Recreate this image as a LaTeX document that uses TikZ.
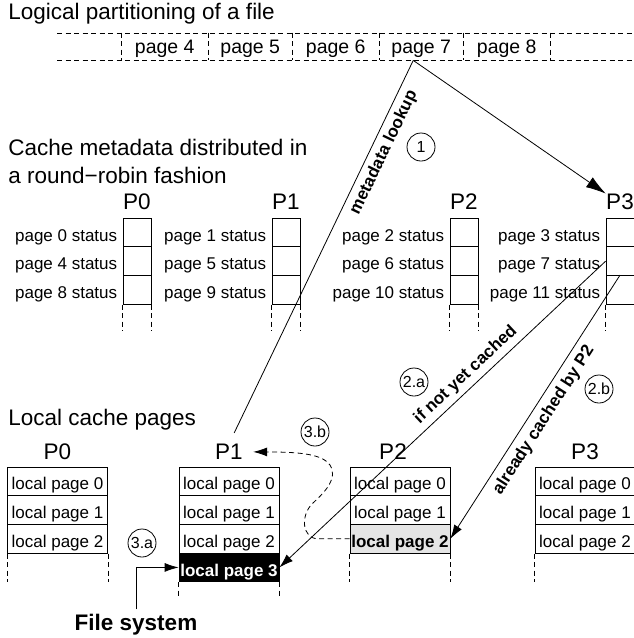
\documentclass[tikz,border=0pt]{standalone}
\usepackage{fontspec}
\setmainfont{Liberation Sans}
\usetikzlibrary{arrows.meta}
\newcommand\fsz[1]{\fontsize{#1}{#1}\selectfont}
\begin{document}
\begin{tikzpicture}[x=1pt,y=-1pt,line width=0.8pt,
  title/.style={font=\fsz{22.5},anchor=base west,inner sep=0},
  plab/.style={font=\fsz{22.5},anchor=base,inner sep=0},
  fpage/.style={minimum width=85.5,minimum height=27,inner sep=0,font=\fsz{19.5},text height=14,text depth=0},
  mcell/.style={draw,minimum width=28,minimum height=28.7,inner sep=0},
  mtext/.style={font=\fsz{17},inner sep=0,text height=17.2,text depth=0,left=5pt},
  lcell/.style={draw,minimum width=100,minimum height=28.7,inner sep=0,font=\fsz{17},text height=17.2,text depth=0},
  hcell/.style={lcell,font=\bfseries\fsz{17}},
  num/.style={circle,draw,minimum size=28,inner sep=0,font=\fsz{16}},
  elab/.style={font=\bfseries\fsz{17},sloped,inner sep=0,text height=12.5,text depth=3.5},
  tip/.style={-{Latex[length=14pt,width=9pt]}},
  rtip/.style={{Latex[length=14pt,width=9pt]}-},
  dsh/.style={dash pattern=on 5pt off 3.5pt}]
\useasboundingbox (0,0) rectangle (634,638);

% titles
\node[title] (t1) at (8,19) {Logical partitioning of a file};
\node[title] (t2) at (8,155) {Cache metadata distributed in};
\node[title] (t2b) at (8,183) {a round−robin fashion};
\node[title] (t3) at (8,425) {Local cache pages};

% file strip
\node[fpage] (p4) at (164.75,46.5) {page 4};
\node[fpage] (p5) at (250.25,46.5) {page 5};
\node[fpage] (p6) at (335.75,46.5) {page 6};
\node[fpage] (p7) at (421.25,46.5) {page 7};
\node[fpage] (p8) at (506.75,46.5) {page 8};
\draw[dsh] (57,33) -- (634,33);
\draw[dsh] (57,60) -- (634,60);
\foreach \n in {p4,p6,p8}{
  \draw[dsh] (\n.north west) -- (\n.south west);
  \draw[dsh] (\n.north east) -- (\n.south east);
}

% metadata
\foreach \p/\x in {0/137,1/286,2/464,3/620}{
  \foreach \r in {0,1,2}{
    \pgfmathtruncatemacro\pg{\p+4*\r}
    \node[mcell] (m\p\r) at (\x,232.5+28.7*\r) {};
    \node[mtext] at (m\p\r.west) {page \pg\ status};
  }
  \draw[dsh] (m\p2.south west) -- ++(0,26);
  \draw[dsh] (m\p2.south east) -- ++(0,26);
  \node[plab] (Pm\p) at ([yshift=8pt]m\p0.north) {P\p};
}

% local cache pages
\node[lcell] (l00) at (57.5,481.35) {local page 0};
\node[lcell] (l01) at (57.5,510.05) {local page 1};
\node[lcell] (l02) at (57.5,538.75) {local page 2};
\node[lcell] (l10) at (229,481.35) {local page 0};
\node[lcell] (l11) at (229,510.05) {local page 1};
\node[lcell] (l12) at (229,538.75) {local page 2};
\node[hcell,fill=black,text=white] (l13) at (229,567.45) {local page 3};
\node[lcell] (l20) at (400,481.35) {local page 0};
\node[lcell] (l21) at (400,510.05) {local page 1};
\node[hcell,fill=gray!20] (l22) at (400,538.75) {local page 2};
\node[lcell] (l30) at (585,481.35) {local page 0};
\node[lcell] (l31) at (585,510.05) {local page 1};
\node[lcell] (l32) at (585,538.75) {local page 2};
\foreach \n in {l02,l22,l32}{
  \draw[dsh] (\n.south west) -- ++(0,28);
  \draw[dsh] (\n.south east) -- ++(0,28);
}
\draw[dsh] (l13.south west) -- ++(0,16);
\draw[dsh] (l13.south east) -- ++(0,16);
\node[plab] (Pl0) at ([yshift=7pt]l00.north) {P0};
\node[plab] (Pl1) at ([yshift=7pt]l10.north) {P1};
\node[plab] (Pl2) at ([yshift=7pt,xshift=-7pt]l20.north) {P2};
\node[plab] (Pl3) at ([yshift=7pt]l30.north) {P3};

\node[font=\bfseries\fsz{22.5},anchor=base,inner sep=0] (fs) at (136,630) {File system};

% step circles
\node[num] (c1) at (421,147) {1};
\node[num] (c2a) at (414,382) {2.a};
\node[num] (c2b) at (599,389) {2.b};
\node[num] (c3a) at (142,543) {3.a};
\node[num] (c3b) at (315,432) {3.b};

% connectors
\coordinate (apex) at ([xshift=-8pt]p7.south);
\draw[shorten <=12pt] (Pl1.north) -- node[elab,pos=0.775,below=5pt] {metadata lookup} (apex);
\draw[-{Latex[length=20pt,width=12pt]}] (apex) -- (Pm3.north west);
\draw[rtip] (l13.east) -- node[elab,pos=0.598,above=4.5pt] {if not yet cached} (m31.west);
\draw[rtip] (l22.east) -- node[elab,pos=0.479,below=6pt] {already cached by P2} (m32.north);
\draw[tip,shorten <=4pt] (fs.north) |- (l13.west);
\draw[tip,dsh,shorten >=10pt] (l22.west) -- (318,538.75)
  .. controls (302,538.75) and (300,515) .. (313,503)
  .. controls (326,491) and (338,478) .. (330,465)
  .. controls (322,454) and (300,452) .. (Pl1.east);
\end{tikzpicture}
\end{document}
